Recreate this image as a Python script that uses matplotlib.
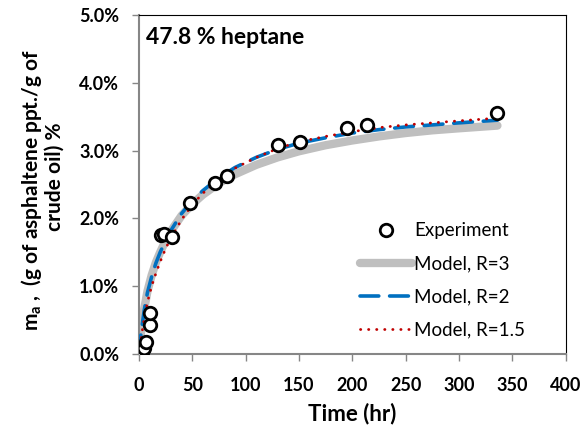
import matplotlib
matplotlib.use("Agg")
import matplotlib.pyplot as plt
from matplotlib.ticker import PercentFormatter, MultipleLocator

plt.rcParams['font.family'] = ['Lato', 'DejaVu Sans']

# Experimental precipitation data (time in hr, m_a in %)
exp_time = [3, 5, 7, 10, 10, 21, 24, 31, 48, 71, 83, 130, 151, 195, 214, 336]
exp_ma = [0.02, 0.09, 0.17, 0.43, 0.60, 1.75, 1.77, 1.72, 2.23, 2.52, 2.62,
          3.08, 3.12, 3.34, 3.38, 3.55]

# Model curves for different R values
model_time = [0, 2, 5, 8, 12, 16, 20, 25, 30, 40, 50, 60, 75, 90, 110, 130,
              150, 175, 200, 225, 250, 275, 300, 336]
model_r3 = [0, 0.32, 0.66, 0.92, 1.16, 1.35, 1.50, 1.67, 1.81, 2.04, 2.21, 2.35,
            2.52, 2.65, 2.79, 2.90, 2.99, 3.08, 3.15, 3.21, 3.26, 3.30, 3.33, 3.37]
model_r2 = [0, 0.30, 0.64, 0.90, 1.14, 1.34, 1.50, 1.67, 1.82, 2.07, 2.26, 2.41,
            2.60, 2.75, 2.90, 3.02, 3.11, 3.19, 3.26, 3.31, 3.35, 3.38, 3.41, 3.45]
model_r15 = [0, 0.22, 0.52, 0.76, 1.00, 1.19, 1.36, 1.55, 1.71, 1.98, 2.20, 2.37,
             2.58, 2.74, 2.90, 3.03, 3.13, 3.21, 3.28, 3.34, 3.38, 3.41, 3.44, 3.48]

fig = plt.figure(figsize=(5.84, 4.29), dpi=100)
ax = fig.add_axes([0.2378, 0.1755, 0.7309, 0.789])

ax.plot(model_time, model_r3, color='#BFBFBF', lw=6, solid_capstyle='round',
        label='Model, R=3', zorder=2)
ax.plot(model_time, model_r2, color='#0070C0', lw=2.6, dashes=(5.2, 3.0),
        dash_capstyle='round', label='Model, R=2', zorder=3)
ax.plot(model_time, model_r15, color='#C00000', lw=2.0, dashes=(0.1, 2.8),
        dash_capstyle='round', label='Model, R=1.5', zorder=4)
ax.plot(exp_time, exp_ma, 'o', ms=9, mfc='white', mec='black', mew=2,
        label='Experiment', zorder=5)

ax.set_xlim(0, 400)
ax.set_ylim(0, 5)
ax.xaxis.set_major_locator(MultipleLocator(50))
ax.yaxis.set_major_locator(MultipleLocator(1))
ax.yaxis.set_major_formatter(PercentFormatter(xmax=100, decimals=1))

for side in ['left', 'bottom']:
    ax.spines[side].set_color('#868686')
    ax.spines[side].set_linewidth(1.5)
for side in ['top', 'right']:
    ax.spines[side].set_color('black')
    ax.spines[side].set_linewidth(0.8)
ax.tick_params(direction='out', length=5, width=1, color='#868686',
               labelsize=13)
ax.tick_params(axis='x', pad=12)
ax.tick_params(axis='y', pad=9)
for lbl in ax.get_xticklabels() + ax.get_yticklabels():
    lbl.set_fontweight('bold')

ax.set_xlabel('Time (hr)', fontsize=16, fontweight='bold', labelpad=6)

# two-line y label, placed line by line
fig.text(32 / 584, 1 - 190 / 429,
         'm$_\\mathregular{a}$ ,  (g of asphaltene ppt./g of',
         rotation=90, fontsize=15, fontweight='bold', ha='center', va='center')
fig.text(55 / 584, 1 - 177 / 429, 'crude oil) %',
         rotation=90, fontsize=15, fontweight='bold', ha='center', va='center')

ax.text(0.016, 0.935, '47.8 % heptane', transform=ax.transAxes,
        fontsize=16.5, fontweight='bold', va='center', ha='left')

handles, labels = ax.get_legend_handles_labels()
order = [3, 0, 1, 2]
ax.legend([handles[i] for i in order], [labels[i] for i in order],
          loc='upper left', bbox_to_anchor=(0.50, 0.41), frameon=False,
          fontsize=13.5, handlelength=2.8, handletextpad=0.1,
          labelspacing=0.85, numpoints=1, borderaxespad=0)

fig.savefig('out.png', dpi=100)
